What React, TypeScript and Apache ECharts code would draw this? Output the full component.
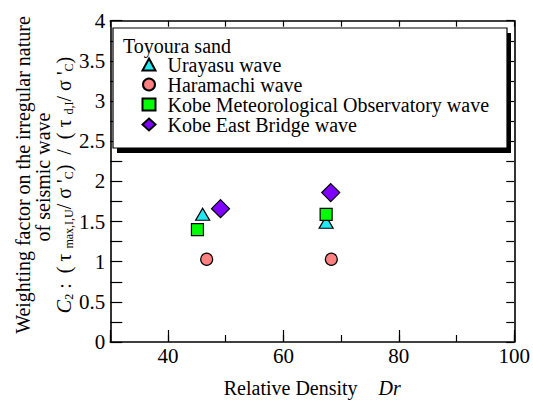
import React, { useEffect, useRef } from 'react';
import * as echarts from 'echarts';

const FONT = 'Liberation Serif';

const seriesNames = [
  'Urayasu wave',
  'Haramachi wave',
  'Kobe Meteorological Observatory wave',
  'Kobe East Bridge wave',
];
const seriesSymbols = ['triangle', 'circle', 'rect', 'diamond'];
const seriesColors = ['#22E8F2', '#FF8080', '#00FF00', '#8000FF'];

// Relative density Dr (x) and weighting factor C2 (y), one pair of arrays per wave
const urayasuDr = [46.0, 67.4];
const urayasuC2 = [1.59, 1.49];
const haramachiDr = [46.7, 68.3];
const haramachiC2 = [1.03, 1.03];
const kobeMetDr = [45.1, 67.4];
const kobeMetC2 = [1.40, 1.59];
const kobeEastDr = [49.1, 68.2];
const kobeEastC2 = [1.66, 1.86];

const xTickLabels = ['40', '60', '80', '100'];
const yTickLabels = ['0', '0.5', '1', '1.5', '2', '2.5', '3', '3.5', '4'];

const seriesDr = [urayasuDr, haramachiDr, kobeMetDr, kobeEastDr];
const seriesC2 = [urayasuC2, haramachiC2, kobeMetC2, kobeEastC2];
const symbolSizes: any[] = [[14, 12], 12, 12, [18, 18]];

export default function App() {
  const ref = useRef<HTMLDivElement>(null);
  useEffect(() => {
    if (!ref.current) return;
    const chart = echarts.init(ref.current, null, { renderer: 'svg' });
    const axisLine = { show: true, lineStyle: { color: '#000', width: 1.6 } };
    const fmtX = (v: number) => (xTickLabels.includes(String(v)) ? String(v) : '');
    const fmtY = (v: number) => {
      const s = String(Math.round(v * 100) / 100);
      return yTickLabels.includes(s) ? s : '';
    };
    const option: any = {
      animation: false,
      backgroundColor: '#fff',
      textStyle: { fontFamily: FONT },
      grid: { left: 110.3, right: 18, top: 20.7, bottom: 60, containLabel: false },
      xAxis: [
        {
          type: 'value', position: 'bottom', min: 30, max: 100, splitNumber: 4,
          axisLine: { ...axisLine, onZero: false },
          axisTick: { show: true, inside: true, length: 12, lineStyle: { color: '#000', width: 1.2 } },
          splitLine: { show: false },
          axisLabel: { formatter: fmtX, fontFamily: FONT, fontSize: 21, color: '#000', margin: 3 },
          name: '{a|Relative Density}{b|Dr}',
          nameLocation: 'middle',
          nameGap: 36,
          nameTextStyle: {
            rich: {
              a: { fontFamily: FONT, fontSize: 20, color: '#000' },
              b: { fontFamily: FONT, fontSize: 20, color: '#000', fontStyle: 'italic', padding: [0, 0, 0, 21] },
            },
          },
        },
        {
          type: 'value', position: 'bottom', min: 30, max: 100, interval: 10,
          axisLine: { show: false, onZero: false },
          axisTick: { show: true, inside: true, length: 7, lineStyle: { color: '#000', width: 1.2 } },
          splitLine: { show: false },
          axisLabel: { show: false },
        },
        {
          type: 'value', position: 'top', min: 30, max: 100, interval: 10,
          axisLine: { ...axisLine, onZero: false },
          axisTick: { show: true, inside: true, length: 6, lineStyle: { color: '#000', width: 1.2 } },
          splitLine: { show: false },
          axisLabel: { show: false },
        },
      ],
      yAxis: [
        {
          type: 'value', position: 'left', min: 0, max: 4, interval: 0.5,
          axisLine: { ...axisLine, onZero: false },
          axisTick: { show: true, inside: true, length: 12, lineStyle: { color: '#000', width: 1.2 } },
          minorTick: { show: true, splitNumber: 2, length: 12, lineStyle: { color: '#000', width: 1.2 } },
          splitLine: { show: false },
          axisLabel: { formatter: fmtY, fontFamily: FONT, fontSize: 21, color: '#000', margin: 5 },
        },
        {
          type: 'value', position: 'right', min: 0, max: 4, interval: 0.25,
          axisLine: { ...axisLine, onZero: false },
          axisTick: { show: true, inside: true, length: 8, lineStyle: { color: '#000', width: 1.2 } },
          splitLine: { show: false },
          axisLabel: { show: false },
        },
      ],
      legend: {
        orient: 'vertical',
        left: 136.5,
        top: 49.5,
        itemWidth: 13,
        itemHeight: 12,
        itemGap: 0,
        selectedMode: false,
        z: 10,
        textStyle: { fontFamily: FONT, fontSize: 20, color: '#000', lineHeight: 19, padding: [0, 0, 0, 7] },
        data: seriesNames,
      },
      graphic: [
        { type: 'rect', z: 5, shape: { x: 117, y: 33, width: 394, height: 120 }, style: { fill: '#000' } },
        { type: 'rect', z: 6, shape: { x: 113, y: 28, width: 394, height: 120 }, style: { fill: '#fff', stroke: '#000', lineWidth: 1.2 } },
        {
          type: 'text', z: 7, x: 123, y: 46,
          style: { text: 'Toyoura sand', fontFamily: FONT, fontSize: 20, fill: '#000', verticalAlign: 'middle', align: 'left' },
        },
        {
          type: 'text', x: 23, y: 175, rotation: Math.PI / 2,
          style: { text: 'Weighting factor on the irregular nature', fontFamily: FONT, fontSize: 20, fill: '#000', align: 'center', verticalAlign: 'middle' },
        },
        {
          type: 'text', x: 43, y: 177, rotation: Math.PI / 2,
          style: { text: 'of seismic wave', fontFamily: FONT, fontSize: 20, fill: '#000', align: 'center', verticalAlign: 'middle' },
        },
        {
          type: 'text', x: 64, y: 185, rotation: Math.PI / 2,
          style: {
            text: '{i|C}{s|2}{n| :  ( τ }{s|max,I,U}{n|/ σ \'}{s|C}{n|)  /  ( τ }{s|d,I}{n|/ σ \'}{s|C}{n|)}',
            align: 'center', verticalAlign: 'middle', fill: '#000', fontFamily: FONT,
            rich: {
              i: { fontFamily: FONT, fontSize: 20, fontStyle: 'italic', lineHeight: 22, fill: '#000' },
              n: { fontFamily: FONT, fontSize: 20, lineHeight: 22, fill: '#000' },
              s: { fontFamily: FONT, fontSize: 12, lineHeight: 12, verticalAlign: 'bottom', fill: '#000' },
            },
          },
        },
      ],
      series: seriesNames.map((name, i) => ({
        name,
        type: 'scatter',
        xAxisIndex: 0,
        yAxisIndex: 0,
        symbol: seriesSymbols[i],
        symbolSize: symbolSizes[i],
        itemStyle: { color: seriesColors[i], borderColor: '#000', borderWidth: 1.2, opacity: 1 },
        data: seriesDr[i].map((x, j) => [x, seriesC2[i][j]]),
      })),
    };
    chart.setOption(option);
    return () => chart.dispose();
  }, []);
  return <div ref={ref} style={{ position: 'fixed', left: 0, top: 0, width: 533, height: 403 }} />;
}
